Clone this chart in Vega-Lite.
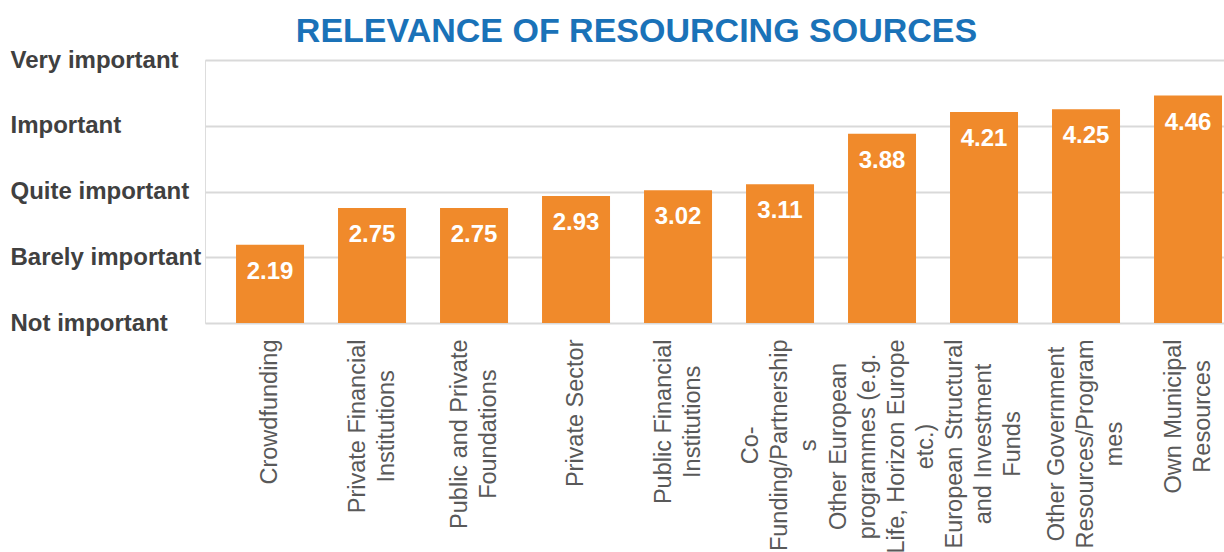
{
  "$schema": "https://vega.github.io/schema/vega-lite/v6.json",
  "autosize": {"type": "none"},
  "padding": {"left": 205, "top": 60, "right": 0, "bottom": 229},
  "width": 1019,
  "height": 263,
  "background": "white",
  "title": {
    "text": "RELEVANCE OF RESOURCING SOURCES",
    "font": "Liberation Sans",
    "fontSize": 34,
    "fontWeight": "bold",
    "color": "#1A72B8",
    "anchor": "middle",
    "dx": -78,
    "baseline": "alphabetic",
    "offset": -28
  },
  "data": {
    "values": [
      {"source": "Crowdfunding", "value": 2.19},
      {"source": "Private Financial|Institutions", "value": 2.75},
      {"source": "Public and Private|Foundations", "value": 2.75},
      {"source": "Private Sector", "value": 2.93},
      {"source": "Public Financial|Institutions", "value": 3.02},
      {"source": "Co-|Funding/Partnership|s", "value": 3.11},
      {"source": "Other European|programmes (e.g.|Life, Horizon Europe|etc.)", "value": 3.88},
      {"source": "European Structural|and Investment|Funds", "value": 4.21},
      {"source": "Other Government|Resources/Program|mes", "value": 4.25},
      {"source": "Own Municipal|Resources", "value": 4.46}
    ]
  },
  "encoding": {
    "x": {
      "field": "source",
      "type": "nominal",
      "sort": null,
      "scale": {"paddingInner": 0.3333, "paddingOuter": 0.1618, "align": 0.94},
      "axis": {
        "title": null,
        "domain": false,
        "ticks": false,
        "tickSize": 0,
        "labelAngle": -90,
        "labelAlign": "center",
        "labelBaseline": "middle",
        "labelFont": "Liberation Sans",
        "labelFontSize": 23.5,
        "labelColor": "#595959",
        "labelLineHeight": 29,
        "labelLimit": 400,
        "labelExpr": "split(datum.value, '|')",
        "labelOffset": {
          "condition": [
            {"test": "length(split(datum.value, '|')) == 2", "value": -14.5},
            {"test": "length(split(datum.value, '|')) == 3", "value": -29},
            {"test": "length(split(datum.value, '|')) == 4", "value": -43.5}
          ],
          "value": 0
        },
        "labelPadding": {
          "condition": [
            {"test": "datum.value == 'Crowdfunding'", "value": 88.5},
            {"test": "datum.value == 'Private Financial|Institutions'", "value": 102.9},
            {"test": "datum.value == 'Public and Private|Foundations'", "value": 110.7},
            {"test": "datum.value == 'Private Sector'", "value": 89.8},
            {"test": "datum.value == 'Public Financial|Institutions'", "value": 98.3},
            {"test": "datum.value == 'Co-|Funding/Partnership|s'", "value": 121.8},
            {"test": "datum.value == 'Other European|programmes (e.g.|Life, Horizon Europe|etc.)'", "value": 123},
            {"test": "datum.value == 'European Structural|and Investment|Funds'", "value": 120.5},
            {"test": "datum.value == 'Other Government|Resources/Program|mes'", "value": 120.5}
          ],
          "value": 93
        }
      }
    }
  },
  "layer": [
    {
      "mark": {"type": "bar", "color": "#F08A2B"},
      "encoding": {
        "y": {
          "field": "value",
          "type": "quantitative",
          "scale": {"domain": [1, 5], "zero": false, "nice": false},
          "axis": {
            "title": null,
            "values": [1, 2, 3, 4, 5],
            "domain": false,
            "ticks": false,
            "tickSize": 0,
            "grid": true,
            "gridColor": "#D9D9D9",
            "gridWidth": 2,
            "labelAlign": "left",
            "labelBaseline": "middle",
            "labelPadding": 195,
            "labelFont": "Liberation Sans",
            "labelFontSize": 24,
            "labelFontWeight": "bold",
            "labelColor": "#404040",
            "labelLimit": 300,
            "labelExpr": "datum.value == 1 ? 'Not important' : datum.value == 2 ? 'Barely important' : datum.value == 3 ? 'Quite important' : datum.value == 4 ? 'Important' : 'Very important'"
          }
        },
        "y2": {"datum": 1}
      }
    },
    {
      "mark": {
        "type": "text",
        "color": "white",
        "font": "Liberation Sans",
        "fontSize": 24,
        "fontWeight": "bold",
        "baseline": "alphabetic",
        "align": "center",
        "dy": 34
      },
      "encoding": {
        "y": {"field": "value", "type": "quantitative"},
        "text": {"field": "value", "type": "quantitative", "format": ".2f"}
      }
    }
  ]
}
